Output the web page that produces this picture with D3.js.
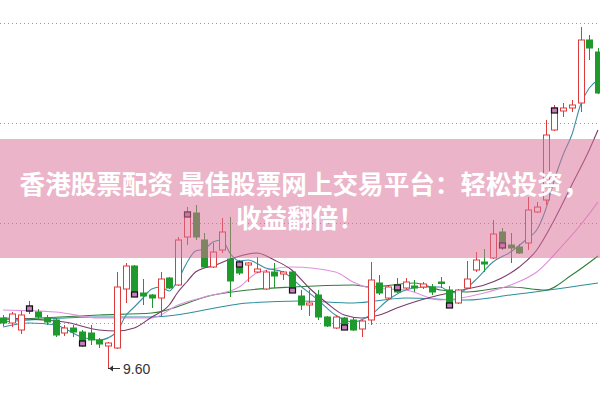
<!DOCTYPE html>
<html>
<head>
<meta charset="utf-8">
<script src="https://cdn.jsdelivr.net/npm/d3@7"></script>
<style>
  body { margin: 0; background: #fff; }
  svg { display: block; }
</style>
</head>
<body>
<script>
// daily candles: open, high, low, close
var opens  = [10.10,10.05, 9.98,10.22,10.16,10.10,10.08, 9.95,10.00, 9.96, 9.95, 9.88, 9.82, 9.80,10.39,10.62,10.35,10.33,10.30,10.50,
              10.43,10.91,11.15,10.88,10.61,10.78,10.69,10.66,10.63,10.56,10.39,10.56,10.54,10.56,10.32,10.23,10.33,10.11,10.00,10.10,
              10.08, 9.99,10.08,10.45,10.30,10.43,10.40,10.42,10.41,10.41,10.46,10.38,10.25,10.40,10.58,10.66,10.70,10.96,10.83,10.81,
              10.85,11.16,11.28,11.98,12.17,12.20,12.25,12.88,12.76];
var highs  = [10.13,10.16,10.17,10.27,10.19,10.13,10.10,10.03,10.03, 9.98,10.03, 9.90, 9.86,10.56,10.65,10.63,10.49,10.34,10.56,10.51,
              10.91,11.21,11.23,10.95,10.85,11.10,11.11,10.68,10.66,10.71,10.58,10.65,10.57,10.57,10.38,10.38,10.38,10.12,10.12,10.11,
              10.10,10.08,10.66,10.53,10.42,10.50,10.50,10.48,10.46,10.44,10.51,10.42,10.39,10.67,10.76,10.79,11.08,11.00,10.95,10.84,
              11.31,11.26,12.08,12.23,12.25,12.28,13.01,12.93,12.80];
var lows   = [10.02,10.01, 9.94,10.14,10.08,10.03, 9.91, 9.92, 9.91, 9.81, 9.83, 9.80, 9.60, 9.79,10.25,10.31,10.23,10.20,10.12,10.39,
              10.42,10.83,10.88,10.60,10.60,10.75,10.31,10.53,10.46,10.55,10.38,10.40,10.48,10.35,10.18,10.12,10.08,10.01, 9.99, 9.98,
               9.97, 9.91,10.03,10.33,10.29,10.35,10.39,10.36,10.39,10.33,10.40,10.20,10.24,10.39,10.56,10.56,10.69,10.78,10.65,10.74,
              10.78,11.15,11.23,11.97,12.11,12.16,12.16,12.68,12.34];
var closes = [10.05,10.14,10.13,10.17,10.11,10.06, 9.93,10.00, 9.96, 9.83, 9.88, 9.84, 9.85,10.41,10.62,10.32,10.32,10.30,10.49,10.40,
              10.88,11.16,10.91,10.61,10.76,10.96,10.47,10.55,10.65,10.59,10.56,10.52,10.56,10.36,10.23,10.25,10.11,10.02,10.11, 9.99,
               9.98,10.07,10.48,10.35,10.41,10.36,10.46,10.40,10.44,10.36,10.45,10.21,10.38,10.49,10.68,10.64,10.94,10.81,10.80,10.75,
              11.18,11.21,11.93,12.20,12.20,12.23,12.88,12.80,12.35];

// candles carrying the small black marker, and at which end of the body
var markIdx = [3, 9, 15, 21, 27, 33, 39, 45, 51, 57, 63];
var markEnd = ["top","bottom","bottom","top","top","bottom","bottom","top","bottom","bottom","top"];

// moving averages: [candle index, price]
var ma5  = [[0,10.01],[3,10.05],[6,10.03],[9,9.91],[11,9.88],[13,9.96],[14,10.12],[15,10.21],[16,10.30],[17,10.39],[18,10.41],
            [19,10.37],[20,10.48],[21,10.65],[22,10.77],[23,10.79],[24,10.86],[25,10.88],[26,10.74],[27,10.67],[28,10.68],[30,10.60],
            [32,10.56],[34,10.42],[36,10.28],[38,10.13],[40,10.06],[42,10.13],[44,10.28],[46,10.38],[48,10.41],[50,10.41],[51,10.36],
            [52,10.35],[54,10.48],[56,10.66],[58,10.76],[60,10.90],[61,10.98],[62,11.18],[63,11.48],[64,11.73],[65,11.93],[66,12.23],
            [67,12.40],[68,12.48]];
var ma10 = [[0,10.10],[7,10.06],[11,9.98],[13,9.97],[15,10.00],[17,10.11],[19,10.23],[20,10.36],[21,10.46],[22,10.56],[23,10.60],
            [24,10.62],[26,10.69],[29,10.75],[31,10.68],[33,10.58],[35,10.40],[37,10.25],[39,10.13],[41,10.10],[43,10.13],[45,10.20],
            [47,10.26],[49,10.31],[51,10.35],[53,10.39],[55,10.43],[57,10.50],[59,10.61],[61,10.78],[63,11.08],[65,11.43],[67,11.78],
            [68,11.98]];
var ma20 = [[0,10.18],[6,10.16],[11,10.10],[17,10.10],[20,10.23],[23,10.31],[27,10.41],[29,10.55],[33,10.61],[38,10.56],[40,10.46],
            [42,10.40],[46,10.38],[50,10.28],[55,10.35],[58,10.43],[61,10.56],[64,10.83],[66,11.03],[68,11.26]];
var ma30 = [[0,10.08],[11,10.13],[17,10.15],[24,10.33],[28,10.38],[33,10.41],[40,10.43],[42,10.41],[47,10.45],[50,10.38],[53,10.36],
            [58,10.41],[62,10.38],[65,10.53],[68,10.72]];
var ma60 = [[0,10.06],[11,10.11],[17,10.11],[28,10.25],[34,10.27],[40,10.25],[46,10.30],[53,10.28],[58,10.33],[68,10.45]];

var gridPrices = [10.05, 11.05, 12.05, 13.05];
var lowLabel = "9.60";
var bannerLines = ["香港股票配资 最佳股票网上交易平台：轻松投资，", "收益翻倍！"];

var w = 600, h = 399;
var svg = d3.select("body").append("svg").attr("width", w).attr("height", h);

var x = d3.scaleLinear().domain([0, closes.length - 1]).range([3, 598]);
var y = d3.scaleLinear().domain([10.05, 13.05]).range([323, 23]);

// dotted grid
svg.selectAll("line.grid")
  .data(gridPrices)
  .enter()
  .append("line")
  .attr("class", "grid")
  .attr("x1", 0).attr("x2", w)
  .attr("y1", function(d) { return Math.round(y(d)) + 0.5; })
  .attr("y2", function(d) { return Math.round(y(d)) + 0.5; })
  .attr("stroke", "#9a9a9a")
  .attr("stroke-dasharray", "1,3");

// moving averages
var line = d3.line()
  .x(function(d) { return x(d[0]); })
  .y(function(d) { return y(d[1]); })
  .curve(d3.curveMonotoneX);

var maSeries = [
  { pts: ma60, color: "#2b8f9c" },
  { pts: ma30, color: "#2f7f3b" },
  { pts: ma20, color: "#e38ee0" },
  { pts: ma10, color: "#7b3a6c" },
  { pts: ma5,  color: "#3f8ea3" }
];
svg.selectAll("path.ma")
  .data(maSeries)
  .enter()
  .append("path")
  .attr("class", "ma")
  .attr("d", function(d) { return line(d.pts); })
  .attr("fill", "none")
  .attr("stroke", function(d) { return d.color; })
  .attr("stroke-width", 1.1);

// candles
var red = "#dd3b3b", green = "#1e9a2c";
var bw = 7;
var candles = svg.selectAll("g.candle")
  .data(closes)
  .enter()
  .append("g")
  .attr("class", "candle");

candles.append("line")
  .attr("x1", function(d, i) { return Math.round(x(i)) + 0.5; })
  .attr("x2", function(d, i) { return Math.round(x(i)) + 0.5; })
  .attr("y1", function(d, i) { return y(highs[i]); })
  .attr("y2", function(d, i) { return y(lows[i]); })
  .attr("stroke", function(d, i) { return d >= opens[i] ? red : green; })
  .attr("stroke-width", 1);

candles.append("rect")
  .attr("x", function(d, i) { return Math.round(x(i)) - bw / 2 + 1; })
  .attr("y", function(d, i) { return y(Math.max(d, opens[i])); })
  .attr("width", bw - 1)
  .attr("height", function(d, i) { return Math.max(1.5, Math.abs(y(d) - y(opens[i]))); })
  .attr("fill", function(d, i) { return d >= opens[i] ? "#fff" : green; })
  .attr("stroke", function(d, i) { return d >= opens[i] ? red : green; })
  .attr("stroke-width", 1);

// black markers
svg.selectAll("rect.mark")
  .data(markIdx)
  .enter()
  .append("rect")
  .attr("class", "mark")
  .attr("x", function(d) { return Math.round(x(d)) - 2.5; })
  .attr("y", function(d, k) {
    var top = y(Math.max(opens[d], closes[d])), bot = y(Math.min(opens[d], closes[d]));
    return markEnd[k] == "top" ? top : bot - 4;
  })
  .attr("width", 6)
  .attr("height", 5)
  .attr("fill", "#c77cc4")
  .attr("stroke", "#111")
  .attr("stroke-width", 1.2);

// lowest price label
var lowI = lows.indexOf(d3.min(lows));
var ly = Math.round(y(lows[lowI])) + 0.5;
svg.append("line")
  .attr("x1", x(lowI)).attr("x2", x(lowI) + 12)
  .attr("y1", ly).attr("y2", ly)
  .attr("stroke", "#333");
svg.append("path")
  .attr("d", "M" + (x(lowI) + 1) + "," + ly + "l4,-3v6z")
  .attr("fill", "#333");
svg.append("text")
  .attr("x", x(lowI) + 15)
  .attr("y", ly + 5)
  .attr("font-family", "Liberation Sans, Arial, sans-serif")
  .attr("font-size", "14px")
  .attr("fill", "#333")
  .text(lowLabel);

// pink banner over the chart
svg.append("rect")
  .attr("x", 0).attr("y", 139)
  .attr("width", w).attr("height", 119)
  .attr("fill", "rgb(217,113,151)")
  .attr("fill-opacity", 0.53);

svg.selectAll("text.banner")
  .data(bannerLines)
  .enter()
  .append("text")
  .attr("class", "banner")
  .attr("x", function(d, i) { return i == 0 ? 304 : 300; })
  .attr("y", function(d, i) { return 194 + i * 34; })
  .attr("text-anchor", "middle")
  .attr("font-family", "Noto Sans CJK SC")
  .attr("font-weight", "bold")
  .attr("font-size", "25.6px")
  .attr("fill", "#fff")
  .text(function(d) { return d; });
</script>
</body>
</html>
